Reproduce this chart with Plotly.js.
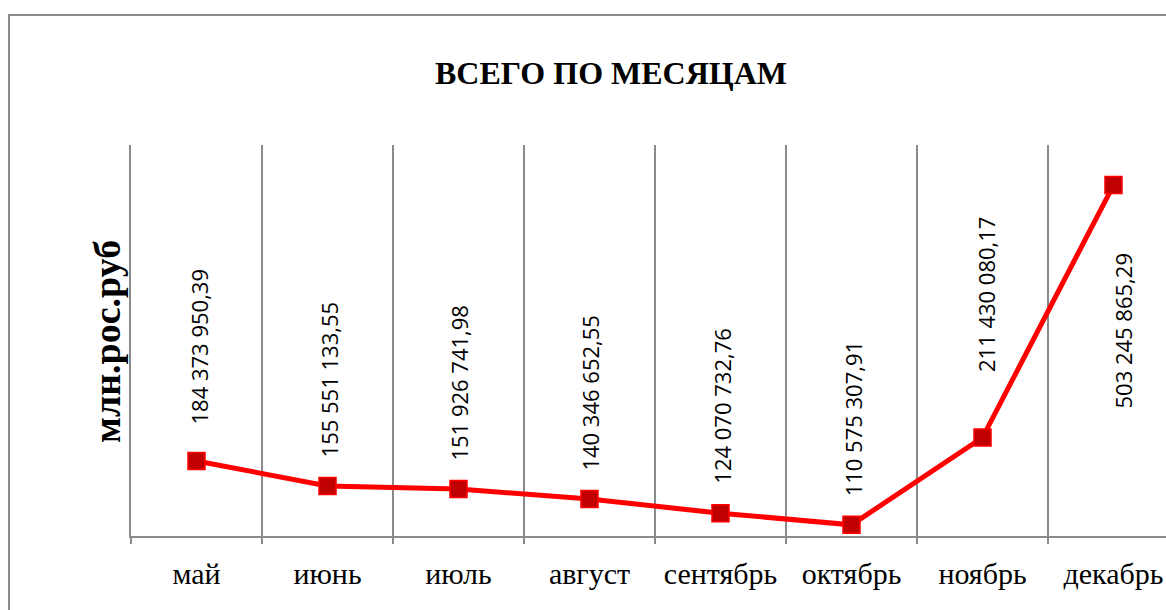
<!DOCTYPE html>
<html>
<head>
<meta charset="utf-8">
<script src="https://cdn.plot.ly/plotly-3.0.1.min.js"></script>
<style>
  html, body { margin:0; padding:0; background:#fff; overflow:hidden; width:1166px; height:610px; }
  #chart { position:absolute; left:0; top:0; width:1180px; height:640px; }
  #frame { position:absolute; left:8px; top:14px; width:1200px; height:700px; border:2px solid #8c8c8c; pointer-events:none; box-sizing:border-box; }
</style>
</head>
<body>
<div id="chart"></div>
<div id="frame"></div>
<script>
const months = ["май", "июнь", "июль", "август", "сентябрь", "октябрь", "ноябрь", "декабрь"];
const totals = [184373950.39, 155551133.55, 151926741.98, 140346652.55, 124070732.76, 110575307.91, 211430080.17, 503245865.29];
const labels = ["184 373 950,39", "155 551 133,55", "151 926 741,98", "140 346 652,55", "124 070 732,76", "110 575 307,91", "211 430 080,17", "503 245 865,29"];

// label placement offsets (pixels), layout only
const labelYShift = [34, 26, 26, 26, 27, 26, 63, -66];
const labelXShift = [2, 1, 1, 1, 2, 1, 3, 10];

const trace = {
  x: months, y: totals, type: "scatter", mode: "lines+markers",
  line: { color: "#ff0000", width: 5 },
  marker: { symbol: "square", size: 17, color: "#c00000", line: { color: "#ff0000", width: 1.5 } },
  hoverinfo: "skip"
};

const annotations = months.map((m, i) => {
  const below = labelYShift[i] < 0;
  return {
    x: m, y: totals[i], xref: "x", yref: "y",
    text: labels[i], showarrow: false, textangle: -90,
    font: { family: "Open Sans, sans-serif", size: 22, color: "#000" },
    xanchor: "center",
    yanchor: below ? "top" : "bottom",
    yshift: labelYShift[i],
    xshift: labelXShift[i]
  };
});
annotations.push({
  xref: "paper", yref: "paper", x: (107 - 131) / 1048, y: (536 - 342) / 391,
  text: "<b>млн.рос.руб</b>", showarrow: false, textangle: -90,
  xanchor: "center", yanchor: "middle",
  font: { family: "Liberation Serif, Times New Roman, serif", size: 38, color: "#000" }
});

const layout = {
  width: 1180, height: 640,
  margin: { l: 131, r: 1, t: 145, b: 104 },
  paper_bgcolor: "#fff", plot_bgcolor: "#fff",
  showlegend: false,
  title: {
    text: "<b>ВСЕГО ПО МЕСЯЦАМ</b>",
    x: 611 / 1180, xanchor: "center", xref: "container",
    y: 1 - 73 / 640, yanchor: "middle", yref: "container",
    font: { family: "Liberation Serif, Times New Roman, serif", size: 32, color: "#000" }
  },
  xaxis: {
    type: "category", tickson: "boundaries",
    showgrid: true, gridcolor: "#8a8a8a", gridwidth: 1.5,
    showline: true, linecolor: "#8a8a8a", linewidth: 2,
    ticks: "outside", ticklen: 6, tickcolor: "#8a8a8a", tickwidth: 2,
    ticklabelstandoff: 10,
    tickfont: { family: "Liberation Serif, Times New Roman, serif", size: 30, color: "#000" },
    range: [-0.5, 7.5], fixedrange: true
  },
  yaxis: {
    range: [97.7e6, 549.5e6],
    showgrid: false, zeroline: false, showticklabels: false,
    showline: true, linecolor: "#8a8a8a", linewidth: 2, ticks: "",
    fixedrange: true
  },
  annotations: annotations
};

Plotly.newPlot("chart", [trace], layout, { displayModeBar: false, staticPlot: true });
</script>
</body>
</html>
